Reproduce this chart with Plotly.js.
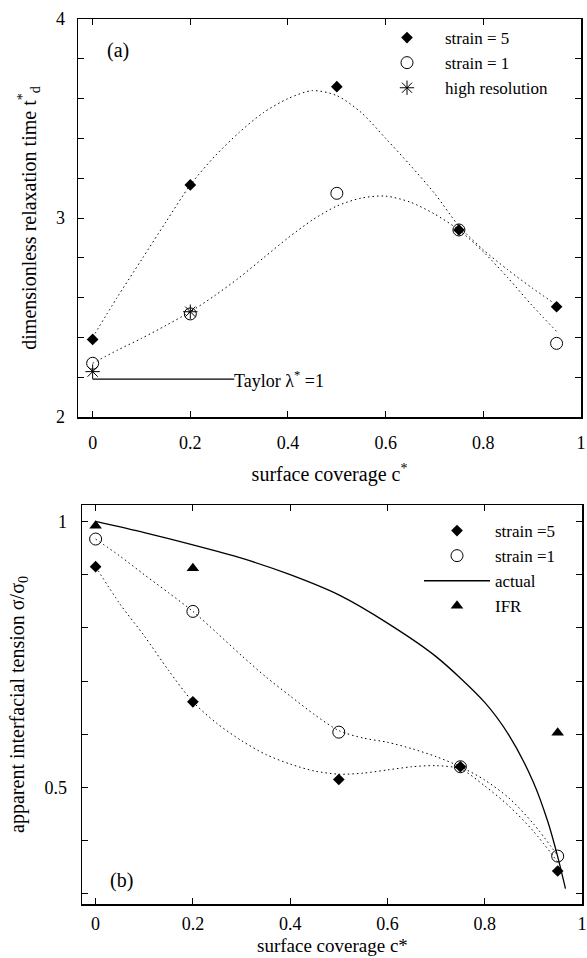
<!DOCTYPE html>
<html>
<head>
<meta charset="utf-8">
<script src="https://cdn.plot.ly/plotly-3.0.1.min.js"></script>
<style>html,body{margin:0;padding:0;background:#fff}#chart{width:587px;height:958px}</style>
</head>
<body>
<div id="chart"></div>
<script>
// ---------- panel (a) data ----------
const coverageA = [0, 0.2, 0.5, 0.75, 0.95];
const relaxStrain5 = [2.39, 3.166, 3.66, 2.94, 2.554];
const relaxStrain1 = [2.27, 2.518, 3.124, 2.94, 2.37];
const coverageHighRes = [0, 0.2];
const relaxHighRes = [2.228, 2.529];
const fitCoverageA = [0, 0.05, 0.1, 0.15, 0.2, 0.25, 0.3, 0.35, 0.4, 0.45, 0.5, 0.55, 0.6, 0.65, 0.7, 0.75, 0.8, 0.85, 0.9, 0.95];
const fitRelaxStrain5 = [2.40, 2.60, 2.79, 2.98, 3.166, 3.31, 3.43, 3.53, 3.60, 3.64, 3.615, 3.53, 3.40, 3.266, 3.124, 2.96, 2.84, 2.74, 2.648, 2.563];
const fitRelaxStrain1 = [2.27, 2.335, 2.395, 2.46, 2.529, 2.61, 2.70, 2.80, 2.90, 2.99, 3.06, 3.10, 3.11, 3.08, 3.02, 2.94, 2.83, 2.70, 2.56, 2.43];
const taylorX = [0, 0.29];
const taylorY = [2.19, 2.19];
const majorTicksYA = [2, 3, 4];
const majorTextYA = ['2', '3', '4'];
const minorTicksYA = [2.2, 2.4, 2.6, 2.8, 3.2, 3.4, 3.6, 3.8];

// ---------- panel (b) data ----------
const coverageB = [0, 0.2, 0.5, 0.75, 0.95];
const tensionStrain5 = [0.915, 0.661, 0.515, 0.539, 0.343];
const tensionStrain1 = [0.967, 0.831, 0.604, 0.539, 0.371];
const coverageIFR = [0, 0.2, 0.95];
const tensionIFR = [0.992, 0.912, 0.603];
const actualCoverage = [0, 0.1, 0.2, 0.3, 0.4, 0.5, 0.6, 0.7, 0.8, 0.85, 0.9, 0.93, 0.95, 0.966];
const actualTension = [1.0, 0.979, 0.956, 0.931, 0.90, 0.862, 0.809, 0.746, 0.66, 0.598, 0.51, 0.435, 0.37, 0.31];
const fitCoverageB = [0, 0.05, 0.1, 0.15, 0.2, 0.25, 0.3, 0.35, 0.4, 0.45, 0.5, 0.55, 0.6, 0.65, 0.7, 0.75, 0.8, 0.85, 0.9, 0.95];
const fitTensionStrain5 = [0.915, 0.845, 0.785, 0.72, 0.661, 0.62, 0.588, 0.562, 0.544, 0.531, 0.525, 0.527, 0.533, 0.539, 0.541, 0.535, 0.503, 0.465, 0.418, 0.36];
const fitTensionStrain1 = [0.967, 0.935, 0.90, 0.866, 0.831, 0.79, 0.748, 0.708, 0.672, 0.637, 0.607, 0.593, 0.585, 0.573, 0.558, 0.539, 0.514, 0.48, 0.432, 0.372];
const majorTicksYB = [0.5, 1.0];
const majorTextYB = ['0.5', '1'];
const minorTicksYB = [0.3, 0.4, 0.6, 0.7, 0.8, 0.9];

// ---------- shared ----------
const tickValsX = [0, 0.2, 0.4, 0.6, 0.8, 1];
const tickTextX = ['0', '0.2', '0.4', '0.6', '0.8', '1'];

const SERIF = 'Liberation Serif';
const DOT = '1.5px,3px';

const traces = [
  // panel (a) fits
  {x: fitCoverageA, y: fitRelaxStrain5, xaxis: 'x', yaxis: 'y', mode: 'lines', line: {color: '#000', width: 1, dash: DOT, shape: 'spline', smoothing: 0.8}, showlegend: false, hoverinfo: 'skip'},
  {x: fitCoverageA, y: fitRelaxStrain1, xaxis: 'x', yaxis: 'y', mode: 'lines', line: {color: '#000', width: 1, dash: DOT, shape: 'spline', smoothing: 0.8}, showlegend: false, hoverinfo: 'skip'},
  {x: taylorX, y: taylorY, xaxis: 'x', yaxis: 'y', mode: 'lines', line: {color: '#000', width: 1.3}, showlegend: false, hoverinfo: 'skip'},
  {x: coverageA, y: relaxStrain5, xaxis: 'x', yaxis: 'y', mode: 'markers', name: 'strain = 5', legend: 'legend',
   marker: {symbol: 'diamond', size: 9, color: '#000'}},
  {x: coverageA, y: relaxStrain1, xaxis: 'x', yaxis: 'y', mode: 'markers', name: 'strain = 1', legend: 'legend',
   marker: {symbol: 'circle-open', size: 12, color: '#000', line: {width: 1, color: '#000'}}},
  {x: coverageHighRes, y: relaxHighRes, xaxis: 'x', yaxis: 'y', mode: 'markers', name: 'high resolution', legend: 'legend',
   marker: {symbol: 'asterisk-open', size: 12, color: '#000', line: {width: 1, color: '#000'}}},
  // panel (b)
  {x: fitCoverageB, y: fitTensionStrain5, xaxis: 'x2', yaxis: 'y2', mode: 'lines', line: {color: '#000', width: 1, dash: DOT, shape: 'spline', smoothing: 0.8}, showlegend: false, hoverinfo: 'skip'},
  {x: fitCoverageB, y: fitTensionStrain1, xaxis: 'x2', yaxis: 'y2', mode: 'lines', line: {color: '#000', width: 1, dash: DOT, shape: 'spline', smoothing: 0.8}, showlegend: false, hoverinfo: 'skip'},
  {x: coverageB, y: tensionStrain5, xaxis: 'x2', yaxis: 'y2', mode: 'markers', name: 'strain =5', legend: 'legend2',
   marker: {symbol: 'diamond', size: 9, color: '#000'}},
  {x: coverageB, y: tensionStrain1, xaxis: 'x2', yaxis: 'y2', mode: 'markers', name: 'strain =1', legend: 'legend2',
   marker: {symbol: 'circle-open', size: 12, color: '#000', line: {width: 1, color: '#000'}}},
  {x: actualCoverage, y: actualTension, xaxis: 'x2', yaxis: 'y2', mode: 'lines', name: 'actual', legend: 'legend2',
   line: {color: '#000', width: 1.3, shape: 'spline', smoothing: 0.8}},
  {x: coverageIFR, y: tensionIFR, xaxis: 'x2', yaxis: 'y2', mode: 'markers', name: 'IFR', legend: 'legend2',
   marker: {symbol: 'triangle-up', size: 11, color: '#000'}}
];

function axisBase() {
  return {
    showline: true, linecolor: '#000', linewidth: 1.5, mirror: 'ticks',
    ticks: 'inside', ticklen: 6, tickwidth: 1, tickcolor: '#000',
    showgrid: false, zeroline: false,
    tickfont: {family: SERIF, size: 18, color: '#000'}
  };
}
function minorTicks(vals) {
  return {tickvals: vals, ticks: 'inside', ticklen: 6, tickwidth: 1, tickcolor: '#000', showgrid: false};
}

const W = 587, H = 958;
const layout = {
  width: W, height: H,
  margin: {l: 0, r: 0, t: 0, b: 0},
  paper_bgcolor: '#fff', plot_bgcolor: '#fff',
  font: {family: SERIF, color: '#000'},
  showlegend: true,
  xaxis: Object.assign(axisBase(), {
    domain: [78 / W, 581 / W], anchor: 'y', range: [-0.03, 1],
    tickvals: tickValsX, ticktext: tickTextX, ticklabelstandoff: 9,
    title: {text: 'surface coverage c<sup>*</sup>', font: {family: SERIF, size: 20}, standoff: 15}
  }),
  yaxis: Object.assign(axisBase(), {
    domain: [1 - 417 / H, 1 - 19 / H], anchor: 'x', range: [2, 4],
    tickvals: majorTicksYA, ticktext: majorTextYA, minor: minorTicks(minorTicksYA), ticklabelstandoff: 8,
    title: {text: 'dimensionless relaxation time t<sup>*</sup><sub>d</sub>', font: {family: SERIF, size: 20}, standoff: 14}
  }),
  xaxis2: Object.assign(axisBase(), {
    domain: [82 / W, 582 / W], anchor: 'y2', range: [-0.028, 1],
    tickvals: tickValsX, ticktext: tickTextX, ticklabelstandoff: 3
  }),
  yaxis2: Object.assign(axisBase(), {
    domain: [1 - 904 / H, 1 - 505 / H], anchor: 'x2', range: [0.281, 1.031],
    tickvals: majorTicksYB, ticktext: majorTextYB, minor: minorTicks(minorTicksYB), ticklabelstandoff: 10,
    title: {text: 'apparent interfacial tension σ/σ<sub>0</sub>', font: {family: SERIF, size: 20}, standoff: 14}
  }),
  legend: {
    x: 369 / W, y: 1 - 20 / H, xanchor: 'left', yanchor: 'top',
    bgcolor: 'rgba(0,0,0,0)', borderwidth: 0, itemwidth: 66,
    font: {family: SERIF, size: 17, color: '#000'}
  },
  legend2: {
    x: 419 / W, y: 1 - 513 / H, xanchor: 'left', yanchor: 'top',
    bgcolor: 'rgba(0,0,0,0)', borderwidth: 0, itemwidth: 66,
    font: {family: SERIF, size: 17, color: '#000'}
  },
  annotations: [
    {xref: 'x', yref: 'y', x: 0.052, y: 3.844, text: '(a)', showarrow: false, xanchor: 'center', yanchor: 'middle', font: {family: SERIF, size: 20}},
    {xref: 'x', yref: 'y', x: 0.29, y: 2.19, text: 'Taylor λ<sup>*</sup> =1', showarrow: false, xanchor: 'left', yanchor: 'middle', xshift: -2, font: {family: SERIF, size: 18}},
    {xref: 'x2', yref: 'y2', x: 0.053, y: 0.325, text: '(b)', showarrow: false, xanchor: 'center', yanchor: 'middle', font: {family: SERIF, size: 20}},
    {xref: 'paper', yref: 'paper', x: (82 + 582) / 2 / W, y: 1 - 945 / H, text: 'surface coverage c*', showarrow: false,
     xanchor: 'center', yanchor: 'middle', font: {family: SERIF, size: 19}}
  ]
};

Plotly.newPlot('chart', traces, layout, {staticPlot: true, displayModeBar: false});
</script>
</body>
</html>
